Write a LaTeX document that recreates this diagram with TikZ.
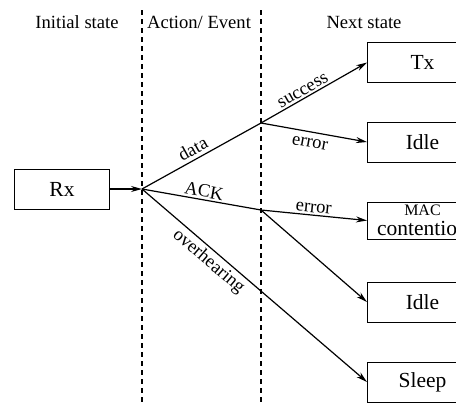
\documentclass[tikz,border=0pt]{standalone}
\usepackage{fontspec}
\setmainfont{Liberation Serif}
\usetikzlibrary{arrows.meta}
\tikzset{
  state/.style={draw, line width=1pt, minimum width=110pt, minimum height=40pt,
    anchor=west, inner sep=0pt, font=\fontsize{21.5}{23}\selectfont},
  head/.style={font=\fontsize{18.6}{20}\selectfont},
  lane/.style={line width=1.3pt, dash pattern=on 5pt off 4pt},
  trans/.style={line width=1.2pt},
  arr/.style={trans, -{Stealth[length=11pt,width=6pt]}},
  lbl/.style={font=\fontsize{18.5}{20}\selectfont, sloped, inner sep=2pt}
}
\begin{document}
\begin{tikzpicture}[x=1pt,y=-1pt]
  \clip (0,0) rectangle (456,405);
  % column titles and separators
  \node[head] (hinit) at (77,22) {Initial state};
  \node[head] (hact) at (199,22) {Action/ Event};
  \node[head] (hnext) at (364,22) {Next state};
  \draw[lane] (142,10) -- (142,405);
  \draw[lane] (261,10) -- (261,405);
  % states
  \node[state, minimum width=95pt] (rx) at (14,189) {Rx};
  \node[state] (tx) at (367,62.5) {Tx};
  \node[state] (idlea) at (367,142) {Idle};
  \node[state, minimum height=37pt, align=center] (mac) at (367,220.5)
    {\fontsize{16}{16}\selectfont MAC\\[-3pt]\fontsize{21.5}{23}\selectfont contention};
  \node[state] (idleb) at (367,302) {Idle};
  \node[state] (sleep) at (367,382) {Sleep};
  % branch points
  \coordinate (j1) at (142,189);
  \coordinate (j2) at (261,123);
  \coordinate (j3) at (261,210);
  % transitions
  \draw[arr] (rx) -- (j1);
  \draw[trans] (j1) -- node[lbl, above=1.5pt, pos=0.47] {data} (j2);
  \draw[arr] (j2) -- node[lbl, above, pos=0.43] {success} (tx.west);
  \draw[arr] (j2) -- node[lbl, below=4pt, pos=0.48] {error} (idlea.west);
  \draw[trans] (j1) -- node[lbl, above, pos=0.51] {ACK} (j3);
  \draw[arr] (j3) -- node[lbl, above, pos=0.49] {error} (mac.west);
  \draw[arr] (j3) -- (idleb.west);
  \draw[arr] (j1) -- node[lbl, below=1pt, pos=0.33] {overhearing} (sleep.west);
\end{tikzpicture}
\end{document}
